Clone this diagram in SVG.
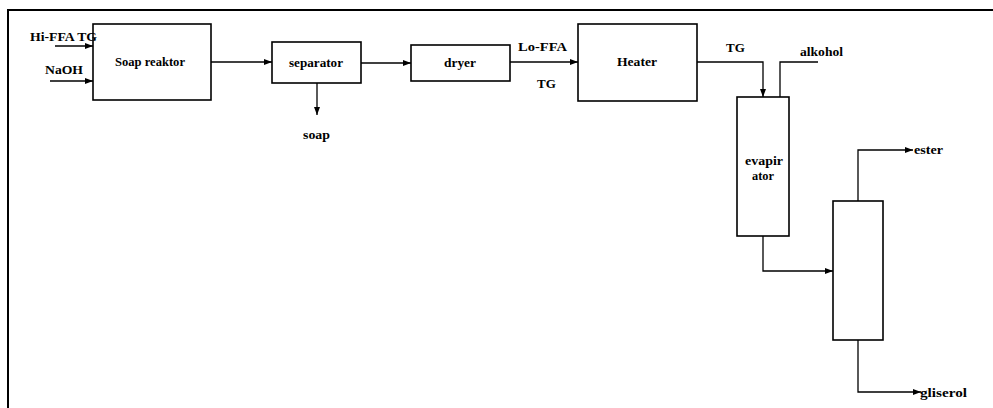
<svg xmlns="http://www.w3.org/2000/svg" width="993" height="408" viewBox="0 0 993 408">
<defs>
<marker id="ah" viewBox="0 0 8 6" refX="8" refY="3" markerWidth="8" markerHeight="6" markerUnits="userSpaceOnUse" orient="auto">
<path d="M0,0 L8,3 L0,6 Z" fill="#000"/>
</marker>
<style>
.box{fill:#fff;stroke:#000;stroke-width:1.6}
.ln{fill:none;stroke:#000;stroke-width:1.3}
.t{font-family:"Liberation Serif","Times New Roman",serif;font-weight:bold;font-size:13px;fill:#000}
.m{text-anchor:middle}
</style>
</defs>
<rect width="993" height="408" fill="#fff"/>
<path d="M8,408 L8,10 L993,10" fill="none" stroke="#000" stroke-width="2"/>
<g id="connectors">
<path class="ln" d="M55,46 H93" marker-end="url(#ah)"/>
<path class="ln" d="M50,81 H93" marker-end="url(#ah)"/>
<path class="ln" d="M211,62 H272" marker-end="url(#ah)"/>
<path class="ln" d="M317,83 V115" marker-end="url(#ah)"/>
<path class="ln" d="M361,63 H411" marker-end="url(#ah)"/>
<path class="ln" d="M510,62 H578" marker-end="url(#ah)"/>
<path class="ln" d="M697,62 H763 V97" marker-end="url(#ah)"/>
<path class="ln" d="M780,97 V62 H818"/>
<path class="ln" d="M763,236 V271 H833" marker-end="url(#ah)"/>
<path class="ln" d="M858,201 V150 H913" marker-end="url(#ah)"/>
<path class="ln" d="M858,340 V392 H921" marker-end="url(#ah)"/>
</g>
<g id="soap-reaktor">
<rect class="box" x="93" y="24" width="118" height="76"/>
<text class="t" x="115" y="66" textLength="70" lengthAdjust="spacingAndGlyphs">Soap reaktor</text>
</g>
<g id="separator">
<rect class="box" x="272" y="42" width="89" height="41"/>
<text class="t" x="289" y="67" textLength="54" lengthAdjust="spacingAndGlyphs">separator</text>
</g>
<g id="dryer">
<rect class="box" x="411" y="45" width="99" height="36"/>
<text class="t" x="444" y="67" textLength="32" lengthAdjust="spacingAndGlyphs">dryer</text>
</g>
<g id="heater">
<rect class="box" x="578" y="24" width="119" height="77"/>
<text class="t" x="617" y="66" textLength="40" lengthAdjust="spacingAndGlyphs">Heater</text>
</g>
<g id="evaporator">
<rect class="box" x="737" y="97" width="52" height="139"/>
<text class="t" x="745" y="165" textLength="38" lengthAdjust="spacingAndGlyphs">evapir</text>
<text class="t" x="752" y="180" textLength="22" lengthAdjust="spacingAndGlyphs">ator</text>
</g>
<g id="column">
<rect class="box" x="833" y="201" width="50" height="139"/>
</g>
<g id="labels">
<text class="t" x="30" y="41" textLength="67" lengthAdjust="spacingAndGlyphs">Hi-FFA TG</text>
<text class="t" x="45" y="74" textLength="38" lengthAdjust="spacingAndGlyphs">NaOH</text>
<text class="t" x="303" y="139" textLength="27" lengthAdjust="spacingAndGlyphs">soap</text>
<text class="t" x="518" y="51" textLength="49" lengthAdjust="spacingAndGlyphs">Lo-FFA</text>
<text class="t" x="537" y="88">TG</text>
<text class="t" x="726" y="52">TG</text>
<text class="t" x="800" y="56" textLength="43" lengthAdjust="spacingAndGlyphs">alkohol</text>
<text class="t" x="914" y="154" textLength="29" lengthAdjust="spacingAndGlyphs">ester</text>
<text class="t" x="920" y="397" textLength="47" lengthAdjust="spacingAndGlyphs">gliserol</text>
</g>
</svg>
